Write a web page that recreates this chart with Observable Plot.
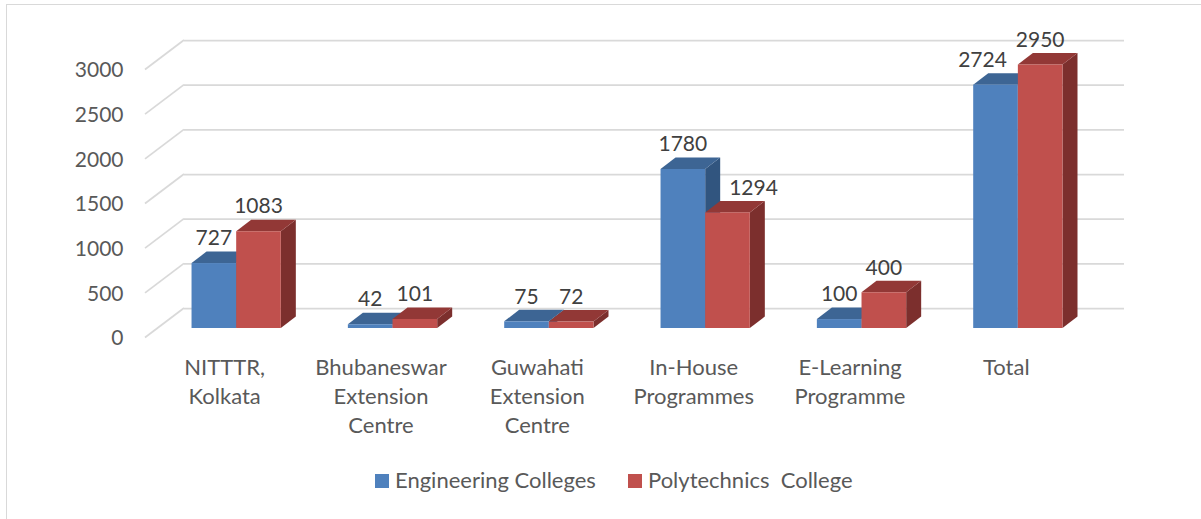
<!DOCTYPE html>
<html>
<head>
<meta charset="utf-8">
<script src="https://cdn.jsdelivr.net/npm/d3@7"></script>
<script src="https://cdn.jsdelivr.net/npm/@observablehq/plot@0.6"></script>
<style>
  html, body { margin: 0; padding: 0; background: #fff; }
  #page { position: relative; width: 1201px; height: 519px; overflow: hidden; font-family: Lato, sans-serif; }
  #frame { position: absolute; left: 6px; top: 4px; right: -4px; bottom: -4px; border-left: 1.5px solid #d9d9d9; border-top: 1.5px solid #d9d9d9; pointer-events: none; }
  #legend { position: absolute; left: 0; top: 460px; width: 1201px; height: 59px; font-size: 22px; color: #595959; white-space: pre; }
  #legend .sw { position: absolute; top: 14px; width: 14px; height: 14px; }
  #legend .lb { position: absolute; top: 7px; line-height: 26px; }
</style>
</head>
<body>
<div id="page"><div id="chart"></div><div id="legend"></div><div id="frame"></div></div>
<script>
const categories = ["NITTTR,\nKolkata", "Bhubaneswar\nExtension\nCentre", "Guwahati\nExtension\nCentre", "In-House\nProgrammes", "E-Learning\nProgramme", "Total"];
const engineering = [727, 42, 75, 1780, 100, 2724];
const polytechnics = [1083, 101, 72, 1294, 400, 2950];
const tickValues = [0, 500, 1000, 1500, 2000, 2500, 3000];
const seriesNames = ["Engineering Colleges", "Polytechnics  College"];

const palette = {
  [seriesNames[0]]: {front: "#4f81bd", top: "#3d6594", side: "#31557f"},
  [seriesNames[1]]: {front: "#c0504d", top: "#923836", side: "#7c2f2d"}
};
const rows = [];
categories.forEach((c, i) => {
  rows.push({category: c, series: seriesNames[0], value: engineering[i], side: -1});
  rows.push({category: c, series: seriesNames[1], value: polytechnics[i], side: 1});
});

const barHalf = 44.65, depthX = 15, depthY = 11.5;
const fontSize = 21;

function polygons(data, fill, pointsFor) {
  return Plot.barY(data, {
    x: "category", y1: 0, y2: "value",
    render(index, scales) {
      const g = d3.create("svg:g");
      g.selectAll("path").data(data).join("path")
        .attr("fill", fill)
        .attr("d", d => "M" + pointsFor(d, scales).map(p => p.join(",")).join("L") + "Z");
      return g.node();
    }
  });
}
const xLeft = (d, s) => s.x(d.category) + (d.side < 0 ? 0 : barHalf);
const topFace = (d, s) => {
  const x = xLeft(d, s), y = s.y(d.value);
  return [[x, y], [x + depthX, y - depthY], [x + barHalf + depthX, y - depthY], [x + barHalf, y]];
};
const sideFace = (d, s) => {
  const x = xLeft(d, s) + barHalf, y = s.y(d.value), y0 = s.y(0);
  return [[x, y0], [x + depthX, y0 - depthY], [x + depthX, y - depthY], [x, y]];
};
const labelShift = v => v === 2724 ? -13 : v === 1294 ? 26 : 0;

const marks = [
  Plot.ruleY(tickValues, {dy: -20, stroke: "#d9d9d9", strokeWidth: 1.75, strokeOpacity: 1}),
  Plot.ruleY(tickValues, {
    render(index, scales) {
      const g = d3.create("svg:g");
      g.selectAll("path").data(tickValues).join("path")
        .attr("fill", "none").attr("stroke", "#d9d9d9").attr("stroke-width", 1.75)
        .attr("d", v => `M145,${scales.y(v) + 9.5}L184,${scales.y(v) - 20}`);
      return g.node();
    }
  })
];
for (const d of rows) {
  const c = palette[d.series];
  marks.push(polygons([d], c.side, sideFace));
  marks.push(polygons([d], c.top, topFace));
  marks.push(Plot.barY([d], {
    x: "category", y1: 0, y2: "value", fill: c.front,
    insetLeft: d.side < 0 ? 0 : barHalf,
    insetRight: d.side < 0 ? barHalf : 0
  }));
}
for (const d of rows) {
  marks.push(Plot.text([d], {
    x: "category", y: "value", text: d => String(d.value),
    dx: d.side * barHalf / 2 + labelShift(d.value) - 0.5, dy: -25,
    fontSize, fill: "#404040", fontFamily: "Lato"
  }));
}
marks.push(Plot.axisY({
  ticks: tickValues, tickFormat: d => String(d), tickSize: 0, tickPadding: 61,
  dy: 10, fontSize, fill: "#595959", fontFamily: "Lato", label: null
}));
marks.push(Plot.axisX({
  tickSize: 0, tickPadding: 26, dx: -12, fontSize: 22, fill: "#595959", fontFamily: "Lato",
  lineHeight: 1.32, label: null, lineAnchor: "top", textOverflow: null, lineWidth: 40
}));

const chart = Plot.plot({
  width: 1201, height: 460,
  marginLeft: 184, marginRight: 77, marginTop: 40, marginBottom: 132,
  style: {background: "transparent", fontFamily: "Lato"},
  x: {type: "band", domain: categories, range: [158, 1096], paddingInner: 0.429, paddingOuter: 0.2145, round: false, label: null},
  y: {type: "linear", domain: [0, 3000], range: [328, 60], label: null},
  marks
});
document.getElementById("chart").append(chart);

const legend = d3.select("#legend");
const items = [[375, 395, seriesNames[0]], [628, 648, seriesNames[1]]];
for (const [sx, tx, name] of items) {
  legend.append("div").attr("class", "sw").style("left", sx + "px").style("background", palette[name].front);
  legend.append("div").attr("class", "lb").style("left", tx + "px").text(name);
}
</script>
</body>
</html>
